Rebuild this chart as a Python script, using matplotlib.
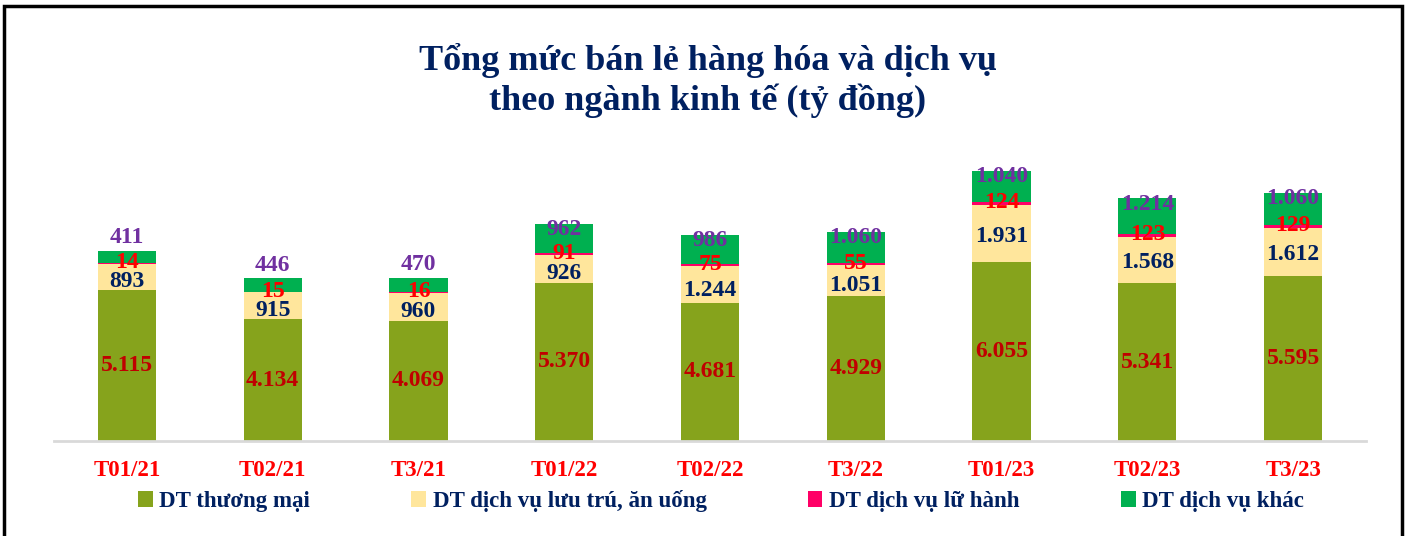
import matplotlib
matplotlib.use("Agg")
import matplotlib.pyplot as plt
from matplotlib.patches import Rectangle
import numpy as np

categories = ["T01/21", "T02/21", "T3/21", "T01/22", "T02/22", "T3/22", "T01/23", "T02/23", "T3/23"]
thuong_mai = [5115, 4134, 4069, 5370, 4681, 4929, 6055, 5341, 5595]
luu_tru = [893, 915, 960, 926, 1244, 1051, 1931, 1568, 1612]
lu_hanh = [14, 15, 16, 91, 75, 55, 124, 123, 129]
khac = [411, 446, 470, 962, 986, 1060, 1040, 1214, 1060]
series_names = ["DT thương mại", "DT dịch vụ lưu trú, ăn uống", "DT dịch vụ lữ hành", "DT dịch vụ khác"]

bar_colors = ["#86A31C", "#FFE69C", "#FF0066", "#00B050"]
label_colors = ["#C00000", "#002060", "#FF0000", "#7030A0"]
navy = "#002060"

plt.rcParams['font.family'] = ['Liberation Serif', 'DejaVu Serif']

fig = plt.figure(figsize=(14.08, 5.36), dpi=100)
ax = fig.add_axes([54/1408, 1 - 441/536, (1366-54)/1408, (441-146)/536])

x = np.arange(len(categories))
width = 0.40
series = [thuong_mai, luu_tru, lu_hanh, khac]
bottom = np.zeros(len(categories))
handles = []
for i, vals in enumerate(series):
    vals = np.array(vals, dtype=float)
    b = ax.bar(x, vals, width, bottom=bottom, color=bar_colors[i], edgecolor='none', label=series_names[i])
    handles.append(b)
    for j, v in enumerate(vals):
        txt = f"{int(v):,}".replace(",", ".")
        if i == 0:
            y = bottom[j] + v / 2
            va = 'center'
        elif i == 1:
            y = bottom[j] + v * (0.45 if v > 1500 else 0.33)
            va = 'center'
        elif i == 2:
            y = bottom[j] + v / 2 + 20
            va = 'center'
        else:
            if v < 600:
                y = bottom[j] + v + 100
                va = 'bottom'
            else:
                y = bottom[j] + v * 0.82
                va = 'center'
        ax.text(x[j], y, txt, ha='center', va=va, color=label_colors[i],
                fontsize=17, fontweight='bold')
    bottom += vals

ax.set_xlim(-0.5, len(categories) - 0.5)
ax.set_ylim(0, 10000)
for s in ['top', 'right', 'left']:
    ax.spines[s].set_visible(False)
ax.spines['bottom'].set_color('#D9D9D9')
ax.spines['bottom'].set_linewidth(2)
ax.set_yticks([])
ax.set_xticks(x)
ax.set_xticklabels(categories, color='#FF0000', fontsize=16.5, fontweight='bold')
ax.tick_params(axis='x', length=0, pad=14)

fig.text(708/1408, 1 - 60/536, "Tổng mức bán lẻ hàng hóa và dịch vụ", ha='center', va='center',
         fontsize=26, fontweight='bold', color=navy)
fig.text(708/1408, 1 - 101/536, "theo ngành kinh tế (tỷ đồng)", ha='center', va='center',
         fontsize=26, fontweight='bold', color=navy)

leg = fig.legend(handles=handles, labels=series_names, loc='center', bbox_to_anchor=(721/1408, 1 - 501/536),
                 ncol=4, frameon=False, handlelength=0.65, handleheight=0.65,
                 handletextpad=0.3, columnspacing=4.4, prop={'weight': 'bold', 'size': 16.5})
for t in leg.get_texts():
    t.set_color(navy)

border = Rectangle((4/1408, -0.05), (1402-4)/1408, (1 - 6/536) + 0.05, transform=fig.transFigure,
                   fill=False, edgecolor='black', linewidth=2.5, clip_on=False)
fig.patches.append(border)

fig.savefig("out.png", dpi=100)
